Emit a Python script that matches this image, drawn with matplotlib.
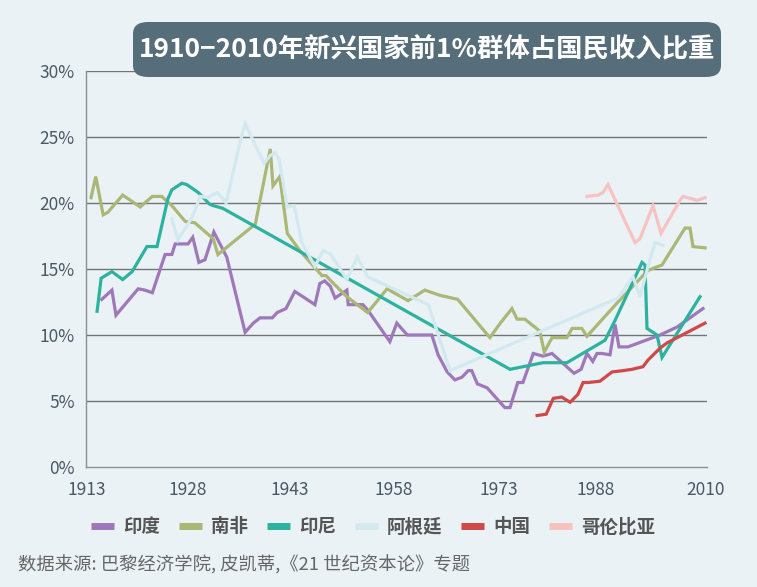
import numpy as np
import matplotlib
matplotlib.use("Agg")
import matplotlib.pyplot as plt
from matplotlib.lines import Line2D
from matplotlib.patches import FancyBboxPatch

plt.rcParams["font.family"] = ["Noto Sans CJK SC", "DejaVu Sans"]

BG = "#EAF2F6"
INK = "#4A5864"
GRID = "#747474"

# ---------- data ----------
india_year = [1915.2, 1916.7, 1917.3, 1920.6, 1921.6, 1922.7, 1924.6, 1925.6, 1926.1, 1928.0,
              1928.7, 1929.6, 1930.5, 1931.8, 1933.7, 1936.4, 1937.6, 1938.6, 1940.4, 1941.1,
              1942.4, 1943.7, 1946.6, 1947.3, 1948.0, 1948.8, 1949.5, 1951.2, 1951.4, 1953.5,
              1954.2, 1957.4, 1958.4, 1959.9, 1963.4, 1964.3, 1965.6, 1966.7, 1967.7, 1968.6,
              1969.1, 1969.9, 1971.3, 1973.9, 1974.7, 1975.9, 1976.7, 1978.3, 1979.8, 1981.2,
              1984.6, 1985.7, 1986.6, 1987.5, 1988.2, 1989.2, 1990.8, 1991.8, 1992.6, 1994.4,
              2000.8, 2004.2, 2009.4]
india_pct = [12.7, 13.4, 11.5, 13.5, 13.4, 13.2, 16.1, 16.1, 16.9, 16.9,
             17.4, 15.5, 15.7, 17.8, 15.9, 10.2, 10.9, 11.3, 11.3, 11.7,
             12.0, 13.3, 12.3, 13.9, 14.1, 13.7, 12.8, 13.4, 12.3, 12.3,
             11.9, 9.5, 10.9, 10.0, 10.0, 8.5, 7.2, 6.6, 6.8, 7.3,
             7.3, 6.3, 6.0, 4.5, 4.5, 6.4, 6.4, 8.6, 8.4, 8.6,
             7.1, 7.4, 8.6, 8.0, 8.6, 8.6, 8.5, 10.8, 9.1, 9.1,
             10.0, 10.6, 12.0]

safrica_year = [1913.6, 1914.3, 1915.4, 1916.1, 1918.3, 1920.9, 1922.7, 1924.1, 1925.6, 1927.6,
                1929.0, 1931.7, 1932.4, 1937.9, 1940.1, 1940.5, 1941.5, 1942.6, 1944.4, 1947.6,
                1948.2, 1948.9, 1951.2, 1954.2, 1957.0, 1960.0, 1962.4, 1964.6, 1967.1, 1971.7,
                1973.2, 1975.0, 1975.8, 1977.0, 1979.3, 1980.0, 1981.2, 1983.5, 1984.3, 1985.8,
                1986.6, 1992.4, 1998.4, 2001.2, 2005.8, 2006.8, 2007.4, 2009.8]
safrica_pct = [20.4, 22.0, 19.1, 19.3, 20.6, 19.7, 20.5, 20.5, 19.8, 18.6,
               18.5, 17.3, 16.1, 18.4, 24.1, 21.3, 22.0, 17.7, 16.4, 14.5,
               14.5, 14.1, 12.9, 11.7, 13.5, 12.6, 13.4, 13.0, 12.7, 9.8,
               10.9, 12.0, 11.2, 11.2, 10.3, 8.7, 9.8, 9.8, 10.5, 10.5,
               9.9, 12.5, 14.9, 15.3, 18.1, 18.1, 16.7, 16.6]

indonesia_year = [1914.5, 1915.1, 1916.7, 1918.3, 1919.7, 1921.9, 1923.4, 1925.0, 1925.6, 1927.1,
                  1927.8, 1929.5, 1931.2, 1931.7, 1933.1, 1974.7, 1979.8, 1983.5, 1989.8, 1991.8,
                  1997.2, 1997.8, 1998.2, 2000.2, 2001.2, 2008.8]
indonesia_pct = [11.8, 14.3, 14.8, 14.2, 14.8, 16.7, 16.7, 20.3, 21.0, 21.5,
                 21.4, 20.8, 19.9, 19.8, 19.6, 7.4, 7.9, 7.9, 9.6, 11.1,
                 15.5, 15.3, 10.5, 10.0, 8.3, 12.9]

argentina_year = [1925.6, 1926.5, 1928.6, 1929.8, 1930.9, 1932.3, 1933.6, 1935.6, 1936.4, 1939.2,
                  1940.1, 1940.8, 1941.4, 1942.6, 1943.6, 1944.7, 1946.6, 1947.8, 1948.9, 1951.2,
                  1952.7, 1954.2, 1962.9, 1966.0, 1992.4, 1995.4, 1996.8, 1998.4, 1999.8, 2001.4]
argentina_pct = [18.8, 17.2, 18.9, 20.5, 20.4, 20.8, 20.0, 24.5, 26.0, 23.0,
                 23.6, 23.8, 23.3, 19.7, 19.8, 17.0, 15.2, 16.4, 16.1, 14.2,
                 15.9, 14.4, 12.3, 7.3, 12.8, 14.4, 12.9, 15.2, 17.0, 16.8]

china_year = [1978.9, 1980.3, 1981.4, 1982.7, 1984.0, 1985.2, 1986.0, 1986.8, 1988.8, 1991.2,
              1993.4, 1995.2, 1997.4, 1998.4, 2000.8, 2002.2, 2009.8]
china_pct = [3.9, 4.0, 5.2, 5.3, 4.9, 5.5, 6.4, 6.4, 6.5, 7.2,
             7.3, 7.4, 7.6, 8.1, 9.0, 9.4, 10.9]

colombia_year = [1986.6, 1988.4, 1989.4, 1990.4, 1995.8, 1996.8, 1999.4, 2001.0, 2004.8, 2005.4,
                 2008.2, 2009.8]
colombia_pct = [20.5, 20.6, 20.8, 21.4, 17.0, 17.3, 19.8, 17.7, 20.2, 20.5,
                20.2, 20.4]

tick_years = [1913, 1928, 1943, 1958, 1973, 1988, 2010]
y_ticks = [0, 5, 10, 15, 20, 25, 30]

series = [
    ("印度", india_year, india_pct, "#9E78B9"),
    ("南非", safrica_year, safrica_pct, "#ABB774"),
    ("印尼", indonesia_year, indonesia_pct, "#2BB3A0"),
    ("阿根廷", argentina_year, argentina_pct, "#D3E9F0"),
    ("中国", china_year, china_pct, "#D04848"),
    ("哥伦比亚", colombia_year, colombia_pct, "#F8C3BF"),
]

# the year axis of the original is not evenly spaced: piecewise-linear scale
tick_pos = [87, 188, 290, 394, 499, 596, 706]
ext_years = [1800] + tick_years + [2200]
ext_pos = [87 - (113 * 101 / 15)] + tick_pos + [706 + 190 * 110 / 22]


def fwd(v):
    return np.interp(v, ext_years, ext_pos)


def inv(v):
    return np.interp(v, ext_pos, ext_years)


fig = plt.figure(figsize=(7.57, 5.87), dpi=100, facecolor=BG)
ax = fig.add_axes((86 / 757, 1 - 467 / 587, 621 / 757, 396 / 587))
ax.set_facecolor(BG)
ax.set_xscale("function", functions=(fwd, inv))

for name, xs, ys, col in series:
    ax.plot(xs, ys, color=col, lw=2.3, solid_joinstyle="miter", zorder=3)

ax.set_xlim(inv(86), inv(707))
ax.set_ylim(0, 30)
ax.set_xticks(tick_years)
ax.set_xticklabels([str(t) for t in tick_years], fontsize=12.5, color=INK)
ax.set_yticks(y_ticks)
ax.set_yticklabels([f"{t}%" for t in y_ticks], fontsize=12.5, color=INK)
ax.tick_params(length=0, pad=8)
ax.tick_params(axis="x", pad=10)
ax.xaxis.set_minor_locator(matplotlib.ticker.NullLocator())
for t in y_ticks[1:]:
    ax.axhline(t, color=GRID, lw=1.0, zorder=1)
for s in ("top", "right"):
    ax.spines[s].set_visible(False)
for s in ("left", "bottom"):
    ax.spines[s].set_color("#8A8F93")
    ax.spines[s].set_linewidth(1.0)

# title box
box = FancyBboxPatch((133 / 757, 1 - 77 / 587), 588 / 757, 55 / 587,
                     boxstyle="round,pad=0,rounding_size=0.02",
                     transform=fig.transFigure, facecolor="#566D7A", edgecolor="none", zorder=5)
fig.patches.append(box)
fig.text(427 / 757, 1 - 49.5 / 587, "1910−2010年新兴国家前1%群体占国民收入比重",
         color="white", fontsize=19, fontweight="bold", ha="center", va="center", zorder=6)

handles = [Line2D([0], [0], color=c, lw=5, solid_capstyle="butt") for _, _, _, c in series]
fig.legend(handles, [s[0] for s in series], loc="center", bbox_to_anchor=(0.493, 1 - 527 / 587),
           ncol=6, frameon=False, handlelength=1.25, handletextpad=0.5, columnspacing=1.0,
           prop={"size": 13.3, "weight": "bold"}, labelcolor="#555555")

fig.text(18 / 757, 1 - 565 / 587, "数据来源: 巴黎经济学院, 皮凯蒂,《21 世纪资本论》专题",
         color="#666666", fontsize=13.2, ha="left", va="center")

fig.savefig("out.png", dpi=100, facecolor=BG)
